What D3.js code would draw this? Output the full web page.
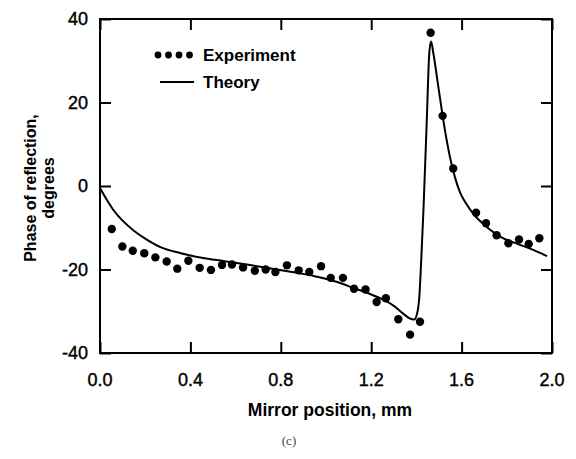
<!DOCTYPE html>
<html>
<head>
<meta charset="utf-8">
<script src="https://d3js.org/d3.v7.min.js"></script>
<style>
  body { margin: 0; background: #fff; }
  text { font-family: "Liberation Sans", Arial, sans-serif; fill: #000; }
</style>
</head>
<body>
<div id="chart"></div>
<script>
// experiment points (mirror position mm, phase deg)
var expX = [0.052, 0.099, 0.145, 0.196, 0.245, 0.295, 0.342, 0.391, 0.441, 0.491,
            0.540, 0.584, 0.633, 0.685, 0.733, 0.776, 0.827, 0.879, 0.926, 0.978,
            1.021, 1.075, 1.124, 1.175, 1.224, 1.265, 1.320, 1.372, 1.416, 1.463,
            1.516, 1.563, 1.664, 1.708, 1.755, 1.807, 1.854, 1.897, 1.944];
var expY = [-10.3, -14.5, -15.5, -16.1, -17.1, -18.1, -19.8, -17.9, -19.6, -20.1,
            -18.9, -18.8, -19.5, -20.3, -20.0, -20.6, -19.0, -20.2, -20.6, -19.2,
            -22.0, -22.0, -24.6, -24.8, -27.8, -26.9, -31.9, -35.6, -32.5, 36.7,
            16.8, 4.2, -6.4, -8.9, -11.8, -13.7, -12.8, -13.9, -12.5];

// theory curve
var thX = [0.000, 0.030, 0.060, 0.100, 0.150, 0.200, 0.270, 0.350, 0.450, 0.550,
           0.650, 0.750, 0.850, 0.950, 1.050, 1.120, 1.200, 1.260, 1.300, 1.340,
           1.370, 1.390, 1.403, 1.413, 1.422, 1.431, 1.446, 1.457, 1.465, 1.475,
           1.497, 1.519, 1.534, 1.549, 1.571, 1.593, 1.620, 1.652, 1.711, 1.770,
           1.844, 1.917, 1.978];
var thY = [-0.5, -3.3, -5.8, -8.3, -10.7, -12.6, -14.7, -16.0, -17.2, -18.0,
           -18.8, -19.7, -20.6, -21.6, -23.0, -24.4, -26.0, -27.4, -28.7, -30.5,
           -31.7, -32.0, -30.6, -26.5, -17.0, -6.0, 15.8, 31.8, 34.6, 31.8,
           23.8, 15.8, 11.0, 6.8, 2.0, -1.5, -4.2, -6.7, -9.8, -12.1,
           -13.8, -15.3, -16.8];

var xTicks = [0, 0.4, 0.8, 1.2, 1.6, 2.0];
var yTicks = [-40, -20, 0, 20, 40];

var margin = {top: 19, right: 24, bottom: 106, left: 100},
    width = 576 - margin.left - margin.right,
    height = 459 - margin.top - margin.bottom;

var svg = d3.select("#chart")
  .append("svg")
    .attr("width", 576)
    .attr("height", 459)
  .append("g")
    .attr("transform", "translate(" + margin.left + "," + margin.top + ")");

var x = d3.scaleLinear().domain([0, 2]).range([0, width]);
var y = d3.scaleLinear().domain([-40, 40]).range([height, 0]);

// frame
svg.append("rect")
  .attr("width", width)
  .attr("height", height)
  .attr("fill", "none")
  .attr("stroke", "#000")
  .attr("stroke-width", 2);

// inward ticks on all four sides
var tl = 11;
svg.append("g").attr("transform", "translate(0," + height + ")")
  .call(d3.axisTop(x).tickValues(xTicks).tickSize(tl).tickFormat(""))
  .call(g => g.select(".domain").remove());
svg.append("g")
  .call(d3.axisBottom(x).tickValues(xTicks).tickSize(tl).tickFormat(""))
  .call(g => g.select(".domain").remove());
svg.append("g")
  .call(d3.axisRight(y).tickValues(yTicks).tickSize(tl).tickFormat(""))
  .call(g => g.select(".domain").remove());
svg.append("g").attr("transform", "translate(" + width + ",0)")
  .call(d3.axisLeft(y).tickValues(yTicks).tickSize(tl).tickFormat(""))
  .call(g => g.select(".domain").remove());
svg.selectAll(".tick line").attr("stroke", "#000").attr("stroke-width", 2);

// tick labels
svg.append("g").selectAll("text")
  .data(xTicks).enter().append("text")
    .attr("x", d => x(d))
    .attr("y", height + 33)
    .attr("text-anchor", "middle")
    .style("font-size", "18px")
    .style("stroke", "#000").style("stroke-width", 0.4)
    .text(d => d3.format(".1f")(d));
svg.append("g").selectAll("text")
  .data(yTicks).enter().append("text")
    .attr("x", -12)
    .attr("y", d => y(d) + 6)
    .attr("text-anchor", "end")
    .style("font-size", "18px")
    .style("stroke", "#000").style("stroke-width", 0.4)
    .text(d => d);

// axis titles
svg.append("text")
  .attr("x", width / 2 + 4)
  .attr("y", height + 63)
  .attr("text-anchor", "middle")
  .style("font-size", "17.5px")
  .style("font-weight", "bold")
  .text("Mirror position, mm");

var yt = svg.append("text")
  .attr("transform", "translate(-64," + (y(0) + 2) + ") rotate(-90)")
  .attr("text-anchor", "middle")
  .style("font-size", "16px")
  .style("font-weight", "bold");
yt.append("tspan").attr("x", 0).attr("dy", 0).text("Phase of reflection,");
yt.append("tspan").attr("x", 0).attr("dy", 18).text("degrees");

// caption
svg.append("text")
  .attr("x", 189)
  .attr("y", height + 92)
  .attr("text-anchor", "middle")
  .style("font-family", "'Liberation Serif', serif")
  .style("font-size", "13px")
  .style("fill", "#444")
  .text("(c)");

// theory line
var line = d3.line()
  .x((d, i) => x(thX[i]))
  .y((d, i) => y(thY[i]))
  .curve(d3.curveMonotoneX);
svg.append("path")
  .datum(thX)
  .attr("d", line)
  .attr("fill", "none")
  .attr("stroke", "#000")
  .attr("stroke-width", 2);

// experiment dots
svg.append("g").selectAll("circle")
  .data(expX).enter().append("circle")
    .attr("cx", (d, i) => x(d))
    .attr("cy", (d, i) => y(expY[i]))
    .attr("r", 4.2)
    .attr("fill", "#000");

// legend
var leg = svg.append("g").attr("transform", "translate(58,36)");
leg.selectAll("circle")
  .data([0, 1, 2, 3]).enter().append("circle")
    .attr("cx", d => d * 10.5)
    .attr("cy", 0)
    .attr("r", 3.4)
    .attr("fill", "#000");
leg.append("text").attr("x", 45).attr("y", 6)
  .style("font-size", "17px").style("font-weight", "bold").text("Experiment");
leg.append("line")
  .attr("x1", 2).attr("x2", 36).attr("y1", 27).attr("y2", 27)
  .attr("stroke", "#000").attr("stroke-width", 2);
leg.append("text").attr("x", 45).attr("y", 33)
  .style("font-size", "17px").style("font-weight", "bold").text("Theory");
</script>
</body>
</html>
